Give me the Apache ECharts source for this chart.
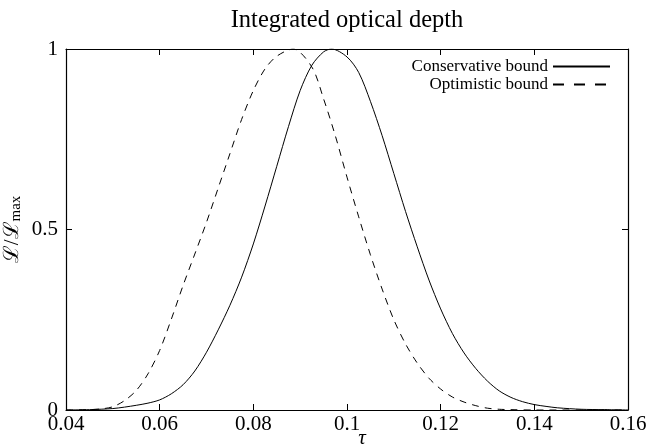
<!DOCTYPE html>
<html>
<head>
<meta charset="utf-8">
<script src="https://cdn.jsdelivr.net/npm/echarts@6/dist/echarts.min.js"></script>
<style>html,body{margin:0;padding:0;background:#fff}#c{width:648px;height:448px}</style>
</head>
<body>
<div id="c"></div>
<script>
const titleText = 'Integrated optical depth';
const xAxisName = 'τ';
const seriesNames = ['Conservative bound', 'Optimistic bound'];
const xTicks = [0.04, 0.06, 0.08, 0.10, 0.12, 0.14, 0.16];
const yTicks = [0, 0.5, 1];

const tauCons  = [0.040, 0.045, 0.050, 0.0525, 0.055, 0.0575, 0.060, 0.0625, 0.065, 0.0675, 0.070, 0.0725, 0.075, 0.0775, 0.080, 0.0825, 0.085, 0.0875, 0.090, 0.0925, 0.095, 0.0967, 0.100, 0.1025, 0.105, 0.1075, 0.110, 0.1125, 0.115, 0.1175, 0.120, 0.1225, 0.125, 0.1275, 0.130, 0.1325, 0.135, 0.1375, 0.140, 0.1425, 0.145, 0.150, 0.155, 0.160];
const likeCons = [0.000, 0.001, 0.004, 0.008, 0.013, 0.019, 0.028, 0.045, 0.070, 0.108, 0.160, 0.222, 0.290, 0.368, 0.460, 0.565, 0.675, 0.785, 0.885, 0.955, 0.992, 1.000, 0.978, 0.935, 0.855, 0.760, 0.655, 0.550, 0.452, 0.360, 0.280, 0.212, 0.158, 0.115, 0.080, 0.053, 0.035, 0.023, 0.015, 0.010, 0.006, 0.002, 0.001, 0.000];

const tauOpt  = [0.040, 0.045, 0.0475, 0.050, 0.0525, 0.055, 0.0575, 0.060, 0.0625, 0.065, 0.0675, 0.070, 0.0725, 0.075, 0.0775, 0.080, 0.0825, 0.085, 0.0885, 0.0925, 0.095, 0.0975, 0.100, 0.1025, 0.105, 0.1075, 0.110, 0.1125, 0.115, 0.1175, 0.120, 0.1225, 0.125, 0.1275, 0.130, 0.1325, 0.135, 0.140, 0.160];
const likeOpt = [0.000, 0.001, 0.003, 0.009, 0.026, 0.054, 0.100, 0.165, 0.252, 0.345, 0.432, 0.520, 0.615, 0.710, 0.805, 0.885, 0.945, 0.980, 1.000, 0.950, 0.862, 0.760, 0.645, 0.535, 0.430, 0.335, 0.250, 0.183, 0.130, 0.088, 0.058, 0.036, 0.022, 0.012, 0.005, 0.002, 0.001, 0.000, 0.000];

const pairs = (xs, ys) => xs.map((x, i) => [x, ys[i]]);
const FONT = '"Liberation Serif", "DejaVu Serif", serif';

const chart = echarts.init(document.getElementById('c'));
const baseX = {
  type: 'value', min: xTicks[0], max: xTicks[xTicks.length - 1], interval: 0.02,
  splitLine: { show: false },
  axisLine: { show: true, onZero: false, lineStyle: { color: '#000', width: 1.2 } },
  axisTick: { show: true, inside: true, length: 6, lineStyle: { color: '#000' } }
};
const baseY = {
  type: 'value', min: yTicks[0], max: yTicks[yTicks.length - 1], interval: 0.5,
  splitLine: { show: false },
  axisLine: { show: true, onZero: false, lineStyle: { color: '#000', width: 1.2 } },
  axisTick: { show: true, inside: true, length: 6, lineStyle: { color: '#000' } }
};
chart.setOption({
  animation: false,
  backgroundColor: '#fff',
  title: [
    {
      text: titleText, left: 342, textAlign: 'center', top: 3,
      textStyle: { fontFamily: FONT, fontSize: 24.5, fontWeight: 'normal', color: '#000' }
    },
    {
      text: xAxisName, left: 362, textAlign: 'center', top: 428, padding: 0,
      textStyle: { fontFamily: FONT, fontSize: 21, fontStyle: 'italic', fontWeight: 'normal', color: '#000' }
    }
  ],
  grid: { left: 66, right: 20, top: 49, bottom: 38, containLabel: false, outerBoundsMode: 'none' },
  legend: {
    orient: 'vertical', right: 32, top: 53, align: 'right',
    itemWidth: 57, itemHeight: 10, itemGap: 1,
    itemStyle: { opacity: 0 },
    textStyle: { fontFamily: FONT, fontSize: 17, color: '#000', padding: [0, 0, 0, 0] },
    data: [
      { name: seriesNames[0] },
      { name: seriesNames[1], lineStyle: { type: [11, 10], dashOffset: 0 } }
    ]
  },
  xAxis: [
    Object.assign({}, baseX, {
      position: 'bottom',
      axisLabel: {
        fontFamily: FONT, fontSize: 21, color: '#000', margin: 4,
        formatter: v => String(+v.toFixed(2))
      }
    }),
    Object.assign({}, baseX, { position: 'top', axisLabel: { show: false } })
  ],
  yAxis: [
    Object.assign({}, baseY, {
      position: 'left',
      axisLabel: {
        fontFamily: FONT, fontSize: 21, color: '#000', margin: 8,
        formatter: v => String(v)
      },
      name: 'ℒ/ℒ{sub|max}', nameLocation: 'middle', nameGap: 42, nameRotate: 90, nameMoveOverlap: false,
      nameTextStyle: {
        fontFamily: FONT, fontSize: 21, color: '#000',
        rich: { sub: { fontFamily: FONT, fontSize: 15, color: '#000', verticalAlign: 'bottom', padding: [8, 0, 0, 0] } }
      }
    }),
    Object.assign({}, baseY, { position: 'right', axisLabel: { show: false } })
  ],
  series: [
    {
      name: seriesNames[0], type: 'line', xAxisIndex: 0, yAxisIndex: 0,
      smooth: 0.3, symbol: 'none', showSymbol: false,
      lineStyle: { color: '#000', width: 1, type: 'solid' },
      itemStyle: { color: '#000' },
      data: pairs(tauCons, likeCons)
    },
    {
      name: seriesNames[1], type: 'line', xAxisIndex: 0, yAxisIndex: 0,
      smooth: 0.3, symbol: 'none', showSymbol: false,
      lineStyle: { color: '#000', width: 1, type: [7, 6] },
      itemStyle: { color: '#000' },
      data: pairs(tauOpt, likeOpt)
    }
  ]
});
</script>
</body>
</html>
